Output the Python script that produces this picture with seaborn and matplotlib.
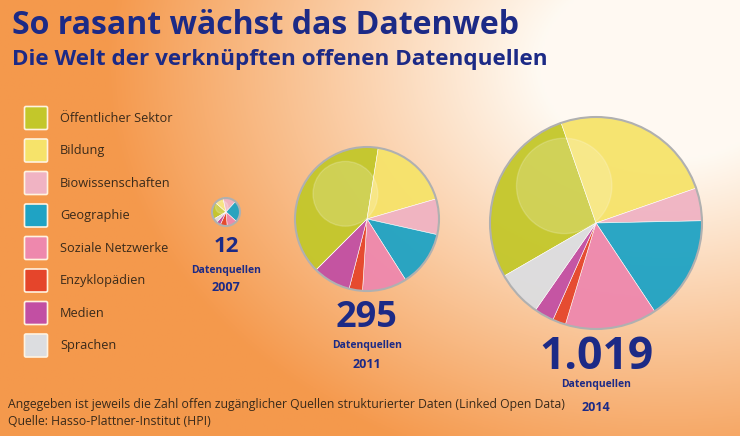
import numpy as np
import matplotlib
matplotlib.use("Agg")
import matplotlib.pyplot as plt
import seaborn as sns
from matplotlib.patches import FancyBboxPatch, Circle

sns.set_theme(style="white")
plt.rcParams['font.family'] = ['Open Sans', 'DejaVu Sans']

kategorien = ["Öffentlicher Sektor", "Bildung", "Biowissenschaften", "Geographie",
              "Soziale Netzwerke", "Enzyklopädien", "Medien", "Sprachen"]
farben = ["#c3c72a", "#f6e36a", "#f0b3c3", "#1fa3c4", "#ee88ad", "#e5452b", "#c24fa3", "#dcdde0"]
jahre = ["2007", "2011", "2014"]
quellen = ["12", "295", "1.019"]
anteile_2007 = [20, 10, 15, 25, 12, 8, 5, 5]
anteile_2011 = [40, 18, 8, 12.5, 10, 3, 8.5, 0]
anteile_2014 = [28, 25, 5, 16, 14, 2, 3, 7]
anteile = [anteile_2007, anteile_2011, anteile_2014]

fig = plt.figure(figsize=(7.4, 4.36), dpi=100)
ax = fig.add_axes([0, 0, 1, 1])

# Hintergrund: oben rechts hell, nach links orange
xx = np.linspace(0, 1, 400)
yy = np.linspace(0, 1, 200)
X, Y = np.meshgrid(xx, yy)
d = np.sqrt(((X - 0.9) / 0.85) ** 2 + ((Y - 0.15) / 1.1) ** 2)
t = np.clip((d - 0.2) * 1.45, 0, 1)
c0 = np.array([1.0, 0.98, 0.95])
c1 = np.array([0.96, 0.60, 0.30])
img = c0 + (c1 - c0) * t[..., None]
ax.imshow(img, extent=(0, 740, 436, 0), aspect="auto", zorder=0)

zentren = [(226, 212), (367, 219), (596, 223)]
radien = [14, 72, 106]
starts = [150, 135, 150]
for (cx, cy), r, a, s in zip(zentren, radien, anteile, starts):
    ax.pie(a, colors=farben, center=(cx, cy), radius=r, startangle=s,
           counterclock=True, frame=True,
           wedgeprops=dict(edgecolor="white", linewidth=0.4, alpha=0.95))
    ax.add_patch(Circle((cx - r * 0.3, cy - r * 0.35), r * 0.45, color="white",
                        alpha=0.18, zorder=5))
    ax.add_patch(Circle((cx, cy), r, fill=False, edgecolor="#b0b0b0", lw=1.5, zorder=6))

ax.set_xlim(0, 740)
ax.set_ylim(436, 0)
ax.set_aspect("auto")
ax.axis("off")

ax.text(12, 26, "So rasant wächst das Datenweb", fontsize=23, fontweight="bold",
        color="#1c2a86", va="center")
ax.text(12, 60, "Die Welt der verknüpften offenen Datenquellen", fontsize=16.2,
        fontweight="bold", color="#1c2a86", va="center")

for i, (k, f) in enumerate(zip(kategorien, farben)):
    y = 118 + i * 32.5
    ax.add_patch(FancyBboxPatch((26, y - 10), 20, 20, boxstyle="round,pad=1.5",
                                facecolor=f, edgecolor="#fff3e0", lw=1.2, zorder=3))
    ax.text(60, y, k, fontsize=9.2, color="#3a2a1a", va="center")

labels = [(226, 246, 16, 270, 287), (367, 318, 26, 345, 364), (596, 357, 32, 384, 407)]
for (x, yz, fs, yd, yj), q, j in zip(labels, quellen, jahre):
    ax.text(x, yz, q, fontsize=fs, fontweight="bold", color="#1c2a86", ha="center", va="center")
    ax.text(x, yd, "Datenquellen", fontsize=7.5, fontweight="bold", color="#1c2a86",
            ha="center", va="center")
    ax.text(x, yj, j, fontsize=9, fontweight="bold", color="#1c2a86",
            ha="center", va="center")

ax.text(8, 404, "Angegeben ist jeweils die Zahl offen zugänglicher Quellen strukturierter Daten (Linked Open Data)",
        fontsize=8.8, color="#3a2a1a", va="center")
ax.text(8, 421, "Quelle: Hasso-Plattner-Institut (HPI)", fontsize=8.8, color="#3a2a1a", va="center")

fig.savefig("out.png", dpi=100)
